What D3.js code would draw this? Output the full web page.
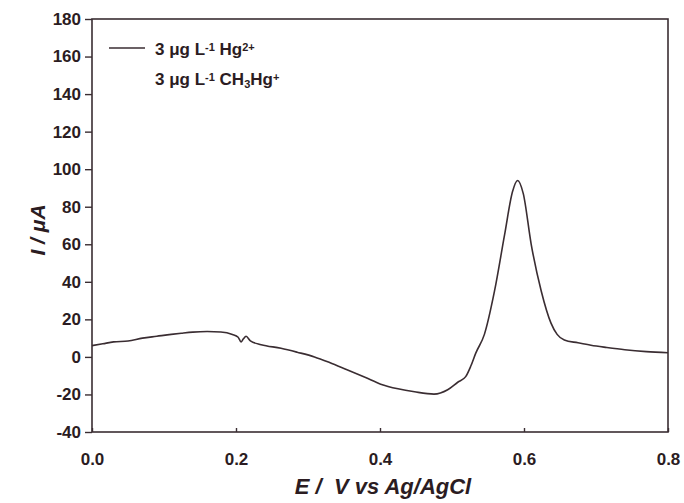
<!DOCTYPE html>
<html>
<head>
<meta charset="utf-8">
<script src="https://d3js.org/d3.v7.min.js"></script>
<style>
  body { margin: 0; background: #fff; }
  svg text { font-family: "Liberation Sans", Arial, sans-serif; fill: #2b1c22; }
  .tick text { font-size: 17px; font-weight: bold; }
</style>
</head>
<body>
<svg width="684" height="503"></svg>
<script>
// potential (V vs Ag/AgCl) and current (uA)
var potential = [0.000, 0.015, 0.030, 0.050, 0.070, 0.090, 0.110, 0.124, 0.140, 0.160,
                 0.179, 0.195, 0.203, 0.207, 0.210, 0.214, 0.220, 0.235, 0.2625, 0.285,
                 0.309, 0.330, 0.355, 0.380, 0.401, 0.425, 0.448, 0.475, 0.494, 0.508,
                 0.519, 0.526, 0.533, 0.545, 0.559, 0.573, 0.584, 0.591, 0.599, 0.610,
                 0.624, 0.6375, 0.646, 0.656, 0.675, 0.693, 0.715, 0.740, 0.770, 0.800];
var current = [6, 7, 8, 8.5, 10, 11, 12, 12.6, 13.2, 13.5,
               13.3, 12, 10.5, 8, 9.5, 11, 8.5, 6.5, 4.6, 2.5,
               0, -3, -7, -11, -14.5, -17, -18.6, -19.8, -17.5, -13.5,
               -10.5, -5, 2, 12, 35, 65, 88, 94, 87, 60,
               35, 18, 12, 9, 7.5, 6.2, 5, 3.8, 2.8, 2.2];
var xTicks = [0, 0.2, 0.4, 0.6, 0.8];
var yTicks = [-40, -20, 0, 20, 40, 60, 80, 100, 120, 140, 160, 180];

var plotL = 92, plotR = 668, plotT = 19, plotB = 432;
var ink = "#3a2d32";

var svg = d3.select("svg");
var x = d3.scaleLinear().domain([0, 0.8]).range([plotL, plotR]);
var y = d3.scaleLinear().domain([-40, 180]).range([plotB, plotT]);

// frame
svg.append("rect")
    .attr("x", plotL).attr("y", plotT)
    .attr("width", plotR - plotL).attr("height", plotB - plotT)
    .attr("fill", "none").attr("stroke", ink).attr("stroke-width", 1.6);

var xAxis = svg.append("g")
    .attr("transform", "translate(0," + plotB + ")")
    .call(d3.axisBottom(x).tickValues(xTicks).tickFormat(d3.format(".1f")).tickSize(-4));
var yAxis = svg.append("g")
    .attr("transform", "translate(" + plotL + ",0)")
    .call(d3.axisLeft(y).tickValues(yTicks).tickFormat(function(d) { return String(d); })
        .tickSize(7).tickPadding(4));

[xAxis, yAxis].forEach(function(a) {
  a.select(".domain").remove();
  a.selectAll(".tick line").attr("stroke", ink).attr("stroke-width", 1.4);
  a.selectAll(".tick text").attr("fill", "#2b1c22");
});
xAxis.selectAll(".tick text").attr("y", 33).attr("dy", "0");

// curve
var pts = d3.zip(potential, current);
svg.append("path")
    .datum(pts)
    .attr("fill", "none")
    .attr("stroke", ink)
    .attr("stroke-width", 1.6)
    .attr("d", d3.line()
        .x(function(d) { return x(d[0]); })
        .y(function(d) { return y(d[1]); })
        .curve(d3.curveMonotoneX));

// axis titles
svg.append("text")
    .attr("x", 383).attr("y", 494)
    .attr("text-anchor", "middle")
    .style("font-size", "22px").style("font-weight", "bold").style("font-style", "italic")
    .text("E /\u00a0 V vs Ag/AgCl");
svg.append("text")
    .attr("transform", "translate(45,230) rotate(-90)")
    .attr("text-anchor", "middle")
    .style("font-size", "21px").style("font-weight", "bold").style("font-style", "italic")
    .text("I / \u03bcA");

// legend
svg.append("line")
    .attr("x1", 109).attr("x2", 145).attr("y1", 48).attr("y2", 48)
    .attr("stroke", ink).attr("stroke-width", 1.6);

function legendText(yPos, parts) {
  var t = svg.append("text")
      .attr("x", 155).attr("y", yPos)
      .style("font-size", "17px").style("font-weight", "bold");
  parts.forEach(function(p) {
    var s = t.append("tspan").text(p[0]);
    if (p[1] === "sup") s.attr("baseline-shift", "35%").style("font-size", "11px");
    if (p[1] === "sub") s.attr("baseline-shift", "-25%").style("font-size", "11px");
  });
}
legendText(55, [["3 \u03bcg L"], ["-1", "sup"], [" Hg"], ["2+", "sup"]]);
legendText(85, [["3 \u03bcg L"], ["-1", "sup"], [" CH"], ["3", "sub"], ["Hg"], ["+", "sup"]]);
</script>
</body>
</html>
